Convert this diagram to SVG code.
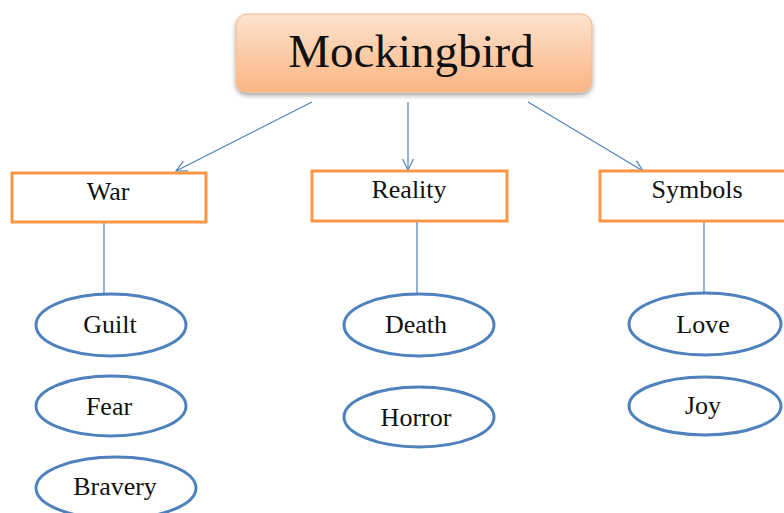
<svg xmlns="http://www.w3.org/2000/svg" width="784" height="513" viewBox="0 0 784 513">
<defs>
<linearGradient id="g" x1="0" y1="0" x2="0" y2="1">
<stop offset="0" stop-color="#fde3cf"/>
<stop offset="1" stop-color="#fab582"/>
</linearGradient>
<filter id="sh" x="-10%" y="-20%" width="120%" height="150%">
<feGaussianBlur in="SourceAlpha" stdDeviation="2.5"/>
<feOffset dx="0" dy="3" result="b"/>
<feComponentTransfer><feFuncA type="linear" slope="0.35"/></feComponentTransfer>
<feMerge><feMergeNode/><feMergeNode in="SourceGraphic"/></feMerge>
</filter>
<marker id="ar" markerWidth="14" markerHeight="14" refX="12" refY="7" orient="auto" markerUnits="userSpaceOnUse">
<path d="M1,1.5 L12,7 L1,12.5" fill="none" stroke="#4f81bd" stroke-width="1.2"/>
</marker>
</defs>
<style>
.t{font-family:"Liberation Serif","Times New Roman",serif;fill:#111;text-anchor:middle;font-size:26px}
.box{fill:#fff;stroke:#f79646;stroke-width:3}
.ov{fill:#fff;stroke:#4f81bd;stroke-width:3}
.c{stroke:#4f81bd;stroke-width:1.2;fill:none}
</style>
<rect width="784" height="513" fill="#fff"/>
<g id="connectors">
<line class="c" x1="312" y1="102" x2="176" y2="171" marker-end="url(#ar)"/>
<line class="c" x1="408" y1="102" x2="408" y2="170" marker-end="url(#ar)"/>
<line class="c" x1="528" y1="102" x2="643" y2="171" marker-end="url(#ar)"/>
<line class="c" x1="104" y1="222" x2="104" y2="294"/>
<line class="c" x1="417" y1="221" x2="417" y2="294"/>
<line class="c" x1="704" y1="221" x2="704" y2="293"/>
</g>
<g id="mockingbird">
<rect x="236" y="14" width="356" height="78" rx="11" fill="url(#g)" stroke="#f5b98a" stroke-width="1" filter="url(#sh)"/>
<text class="t" x="411" y="67" style="font-size:47px">Mockingbird</text>
</g>
<g id="war">
<rect class="box" x="12" y="173" width="194" height="49"/>
<text class="t" x="108" y="200">War</text>
</g>
<g id="reality">
<rect class="box" x="312" y="171" width="195" height="50"/>
<text class="t" x="409" y="198">Reality</text>
</g>
<g id="symbols">
<rect class="box" x="600" y="171" width="190" height="50"/>
<text class="t" x="697" y="198">Symbols</text>
</g>
<g id="guilt">
<ellipse class="ov" cx="111" cy="325" rx="75" ry="31"/>
<text class="t" x="110" y="333">Guilt</text>
</g>
<g id="fear">
<ellipse class="ov" cx="111" cy="406" rx="75" ry="30"/>
<text class="t" x="109" y="415">Fear</text>
</g>
<g id="bravery">
<ellipse class="ov" cx="116" cy="488" rx="80" ry="31"/>
<text class="t" x="115" y="495">Bravery</text>
</g>
<g id="death">
<ellipse class="ov" cx="419" cy="325" rx="75" ry="31"/>
<text class="t" x="416" y="333">Death</text>
</g>
<g id="horror">
<ellipse class="ov" cx="419" cy="417" rx="75" ry="30"/>
<text class="t" x="416" y="426">Horror</text>
</g>
<g id="love">
<ellipse class="ov" cx="705" cy="324" rx="76" ry="31"/>
<text class="t" x="703" y="333">Love</text>
</g>
<g id="joy">
<ellipse class="ov" cx="705" cy="406" rx="76" ry="29"/>
<text class="t" x="703" y="414">Joy</text>
</g>
</svg>
